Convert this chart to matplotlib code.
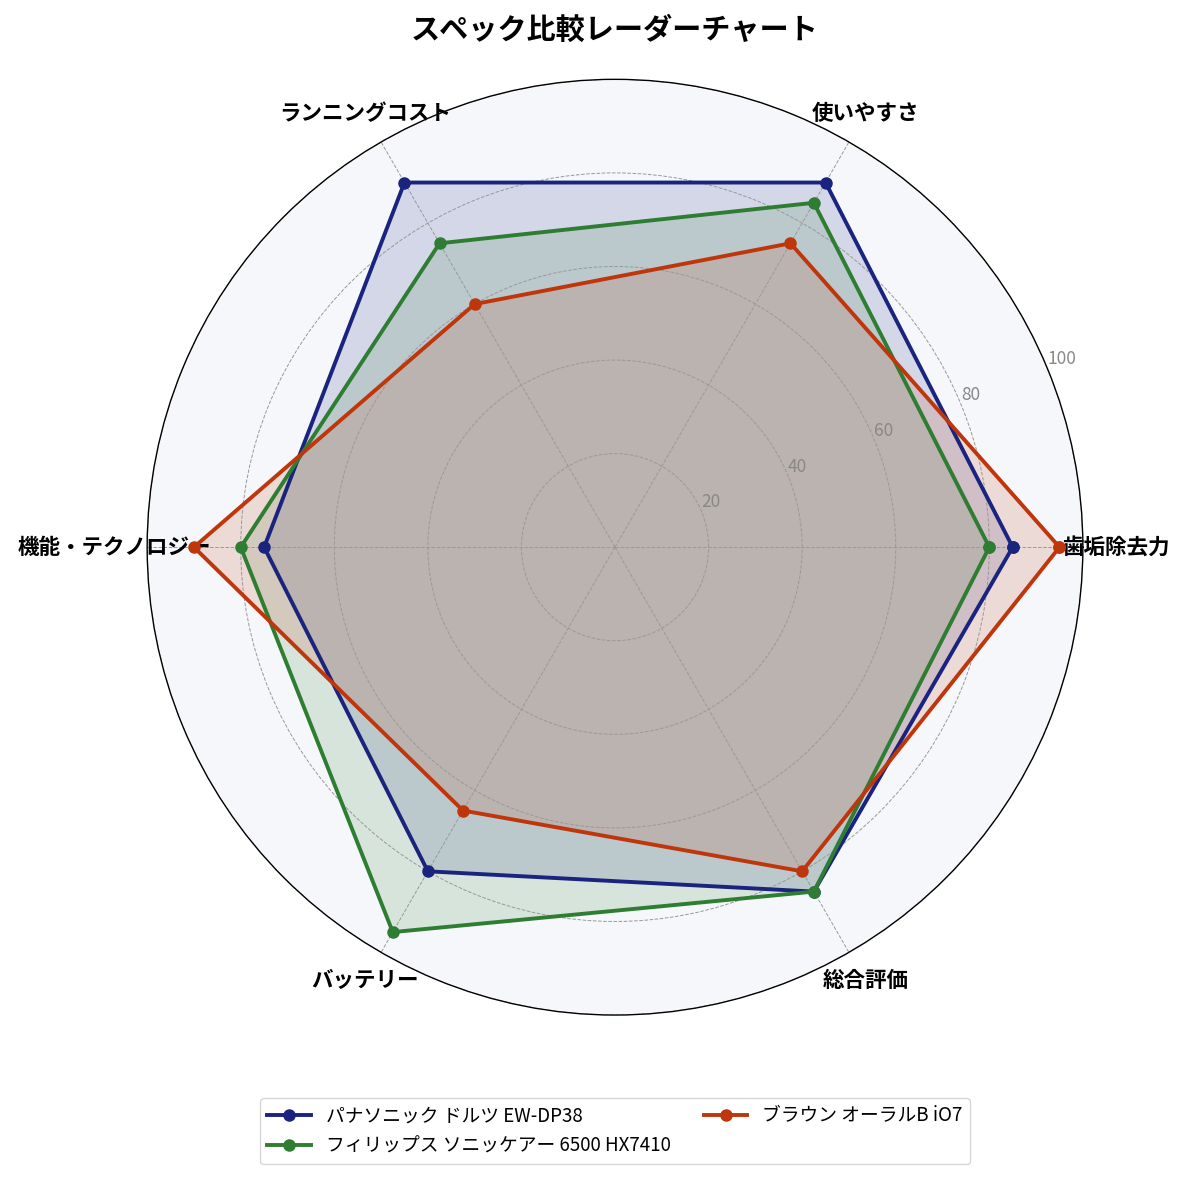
import numpy as np
import matplotlib
matplotlib.use("Agg")
import matplotlib.pyplot as plt

plt.rcParams['font.family'] = ['Noto Sans CJK JP', 'DejaVu Sans']

categories = ["歯垢除去力", "使いやすさ", "ランニングコスト", "機能・テクノロジー", "バッテリー", "総合評価"]
series_names = ["パナソニック ドルツ EW-DP38", "フィリップス ソニッケアー 6500 HX7410", "ブラウン オーラルB iO7"]
panasonic = [85, 90, 90, 75, 80, 85]
philips = [80, 85, 75, 80, 95, 85]
braun = [95, 75, 60, 90, 65, 80]
colors = ["#1a237e", "#2e7d32", "#bf360c"]
r_ticks = [20, 40, 60, 80, 100]

fig = plt.figure(figsize=(11.85, 11.77), dpi=100)
ax = fig.add_axes([0.124, 0.1376, 0.790, 0.795], projection='polar')
ax.set_facecolor('#f5f7fa')

n = len(categories)
angles = np.linspace(0, 2 * np.pi, n, endpoint=False)
angles_c = np.concatenate([angles, angles[:1]])

for name, vals, c in zip(series_names, [panasonic, philips, braun], colors):
    v = np.concatenate([vals, vals[:1]])
    ax.plot(angles_c, v, color=c, linewidth=2.8, marker='o', markersize=8, label=name)
    ax.fill(angles_c, v, color=c, alpha=0.15)

ax.set_ylim(0, 100)
ax.set_yticks(r_ticks)
ax.set_yticklabels([str(t) for t in r_ticks], color='#888888', fontsize=12.5)
ax.set_rlabel_position(22.5)
ax.set_xticks(angles)
ax.set_xticklabels(categories, fontsize=15.5, fontweight='bold')
ax.tick_params(axis='x', pad=13)
ax.grid(True, color='#999999', linestyle='--', linewidth=0.7)
ax.spines['polar'].set_color('black')
ax.spines['polar'].set_linewidth(1.0)

cx = 0.124 + 0.790 / 2
fig.text(cx, 0.975, "スペック比較レーダーチャート", ha='center', va='center', fontsize=21, fontweight='bold')

fig.legend(loc='center', bbox_to_anchor=(cx, 0.039), ncol=2, fontsize=13.5, frameon=True,
           edgecolor='#cccccc', columnspacing=1.8, handlelength=2.3)

fig.savefig("out.png", dpi=100)
